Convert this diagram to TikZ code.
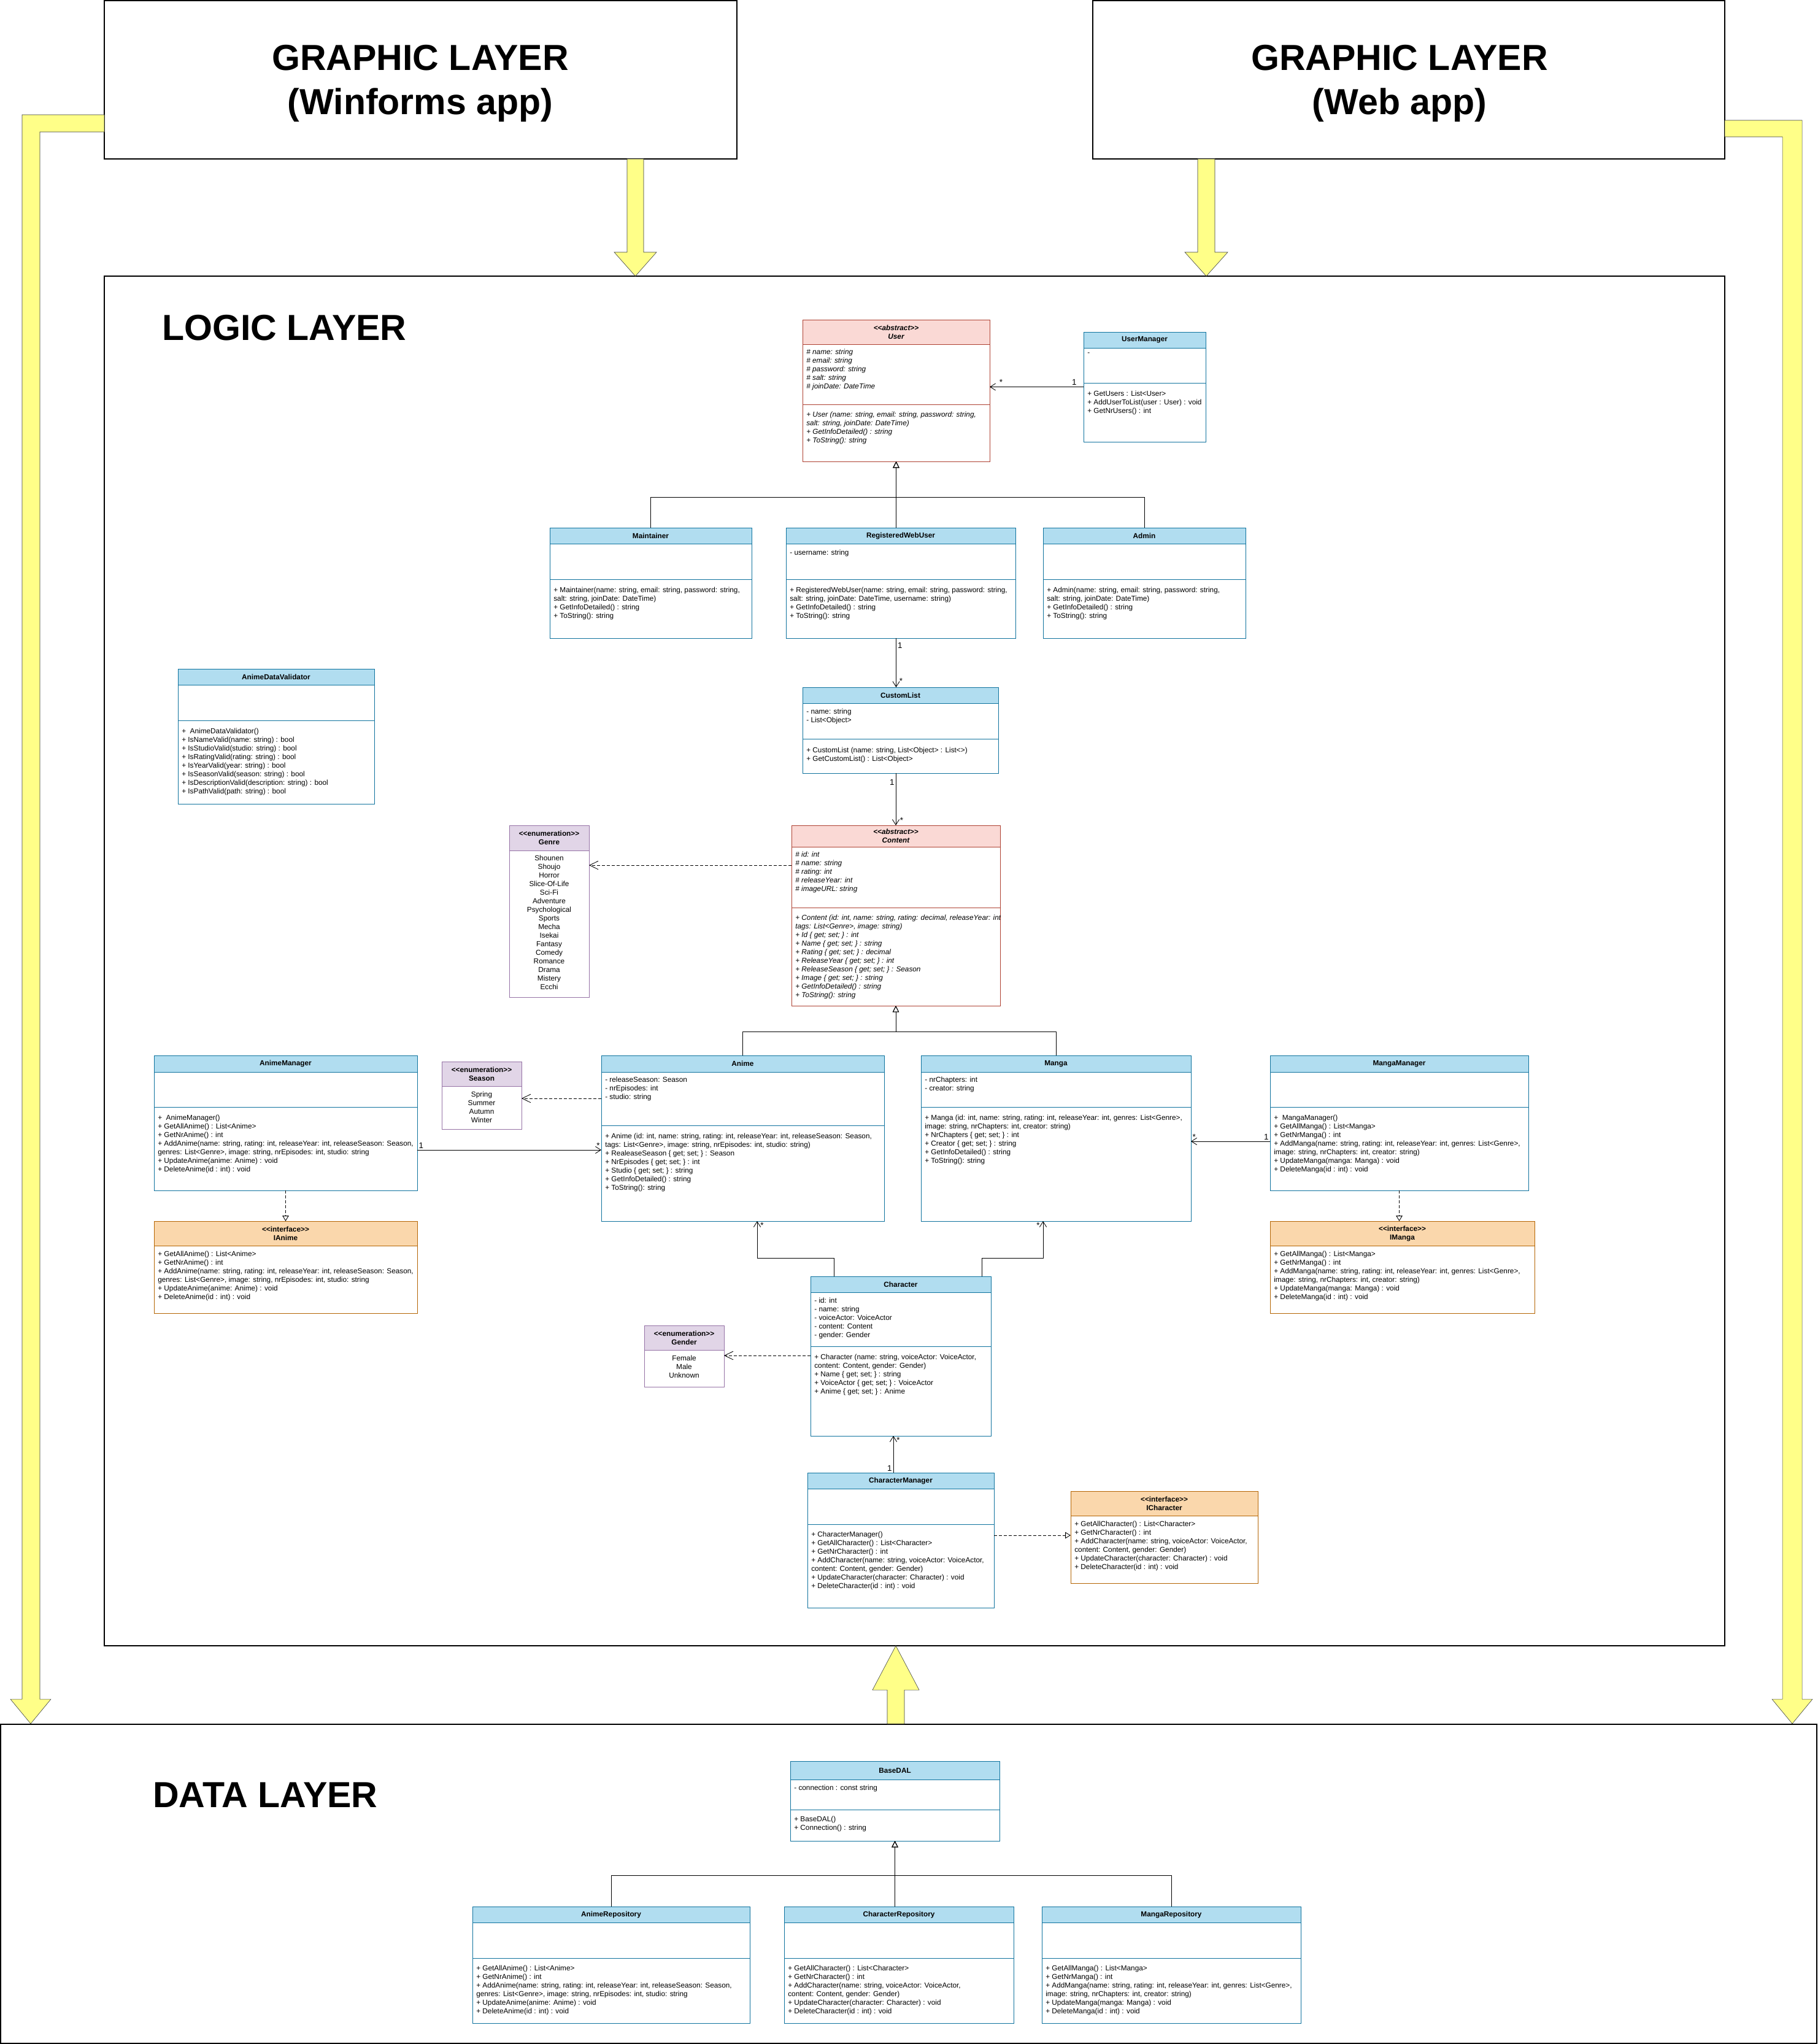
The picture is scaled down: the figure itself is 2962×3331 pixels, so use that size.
\documentclass[tikz,border=0pt]{standalone}
\usepackage{fontspec}
\setmainfont{Liberation Sans}
\usetikzlibrary{arrows.meta,positioning,calc}
\definecolor{clsfill}{HTML}{B1DDF0}
\definecolor{clsline}{HTML}{10739E}
\definecolor{absfill}{HTML}{FAD9D5}
\definecolor{absline}{HTML}{AE4132}
\definecolor{enumfill}{HTML}{E1D5E7}
\definecolor{enumline}{HTML}{9673A6}
\definecolor{ifcfill}{HTML}{FAD7AC}
\definecolor{ifcline}{HTML}{B46504}
\definecolor{arrowfill}{HTML}{FFFF88}
\definecolor{arrowline}{HTML}{36393D}
\newcommand{\umlfont}{\fontsize{8.4}{9.96}\selectfont}
\newcommand{\stereo}[1]{<\kern0pt<#1>\kern0pt>}
% style, name, x, y, width, height, header height, divider offset, title
\newcommand{\umlclass}[9]{%
 \node[#1,fill=white,minimum width=#5*0.25mm,minimum height=#6*0.25mm,anchor=north west] (#2) at (#3,#4) {};
 \node[#1,minimum width=#5*0.25mm,minimum height=#7*0.25mm,anchor=north west,align=center] (#2-head) at (#3,#4) {#9};
 \ifnum#8>0 \draw[#1] (#3,#4+#8) -- ++(#5,0);\fi}

\begin{document}
\begin{tikzpicture}[x=0.25mm,y=-0.25mm,
 klass/.style={draw=clsline,fill=clsfill,line width=.6pt,inner sep=0pt,outer sep=0pt,font=\umlfont\bfseries},
 abstr/.style={klass,draw=absline,fill=absfill,font=\umlfont\bfseries\itshape},
 enum/.style={klass,draw=enumline,fill=enumfill},
 iface/.style={klass,draw=ifcline,fill=ifcfill},
 members/.style={anchor=north west,align=left,inner sep=0pt,font=\umlfont},
 values/.style={anchor=north,align=center,inner sep=0pt,font=\umlfont},
 mult/.style={inner sep=1.5pt,font=\fontsize{9.5}{11}\selectfont},
 layer/.style={draw=black,line width=.8pt,fill=white,inner sep=0pt,outer sep=0pt},
 bigtitle/.style={inner sep=0pt,align=center,font=\fontsize{42}{51}\selectfont\bfseries},
 yellow/.style={fill=arrowfill,draw=arrowline,line width=.4pt},
 assoc/.style={line width=.6pt,-{Straight Barb[length=2.2mm,width=2.8mm]}},
 dep/.style={line width=.6pt,dash pattern=on 1.2mm off .8mm,-{Straight Barb[length=3.5mm,width=3.4mm]}},
 gen/.style={line width=.6pt,-{Triangle[open,length=2.6mm,width=2.6mm]}},
 real/.style={line width=.6pt,dash pattern=on 1.2mm off .8mm,-{Triangle[open,length=2.2mm,width=2.6mm]}}]
 \useasboundingbox (0,0) rectangle (2962,3331);

 % layers
 \node[layer,minimum width=1031*0.25mm,minimum height=258*0.25mm,anchor=north west] (winforms) at (170,1) {};
 \node[bigtitle] (winforms-title) at (685,136) {GRAPHIC LAYER\\(Winforms app)};
 \node[layer,minimum width=1030*0.25mm,minimum height=258*0.25mm,anchor=north west] (webapp) at (1781,1) {};
 \node[bigtitle] (webapp-title) at (2281,136) {GRAPHIC LAYER\\(Web app)};
 \node[layer,minimum width=2641*0.25mm,minimum height=2232*0.25mm,anchor=north west] (logic) at (170,450) {};
 \node[bigtitle,anchor=west] (logictitle) at (264,534) {LOGIC LAYER};
 \node[layer,minimum width=2960*0.25mm,minimum height=520*0.25mm,anchor=north west] (data) at (1,2810) {};
 \node[bigtitle,anchor=west] (datatitle) at (249,2925) {DATA LAYER};

 % yellow block arrows
 \draw[yellow] (1022,259) -- (1022,411) -- (1001,411) -- (1035.5,450) -- (1070,411) -- (1049,411) -- (1049,259) -- cycle;
 \draw[yellow] (1952,259) -- (1952,411) -- (1931,411) -- (1966,450) -- (2001,411) -- (1980,411) -- (1980,259) -- cycle;
 \draw[yellow] (170,187) -- (36,187) -- (36,2769) -- (17,2769) -- (50,2809) -- (83,2769) -- (65,2769) -- (65,215) -- (170,215) -- cycle;
 \draw[yellow] (2811,196) -- (2937,196) -- (2937,2769) -- (2954,2769) -- (2921,2809) -- (2888,2769) -- (2905,2769) -- (2905,223) -- (2811,223) -- cycle;
 \draw[yellow] (1446,2809) -- (1446,2754) -- (1422,2754) -- (1460,2682) -- (1498,2754) -- (1474,2754) -- (1474,2809) -- cycle;

 % users
 \umlclass{abstr}{user}{1308}{521}{305}{231}{40}{138}{\stereo{abstract}\\User}
 \node[members,font=\umlfont\itshape] (user-attr) at (1314,569) {\# name: string\\\# email: string\\\# password: string\\\# salt: string\\\# joinDate: DateTime};
 \node[members,font=\umlfont\itshape] (user-ops) at (1314,671) {+ User (name: string, email: string, password: string,\\salt: string, joinDate: DateTime)\\+ GetInfoDetailed() : string\\+ ToString(): string};
 \umlclass{klass}{usermanager}{1766}{541}{199}{179}{26}{83}{UserManager}
 \node[members] (usermanager-attr) at (1772,575) {-};
 \node[members] (usermanager-ops) at (1772,637) {+ GetUsers : List<User>\\+ AddUserToList(user : User) : void\\+ GetNrUsers() : int};
 \umlclass{klass}{maintainer}{896}{860}{329}{180}{26}{84}{Maintainer}
 \node[members] (maintainer-ops) at (902,957) {+ Maintainer(name: string, email: string, password: string,\\salt: string, joinDate: DateTime)\\+ GetInfoDetailed() : string\\+ ToString(): string};
 \umlclass{klass}{rwu}{1281}{860}{374}{180}{26}{84}{RegisteredWebUser}
 \node[members] (rwu-attr) at (1287,896) {- username: string};
 \node[members] (rwu-ops) at (1287,957) {+ RegisteredWebUser(name: string, email: string, password: string,\\salt: string, joinDate: DateTime, username: string)\\+ GetInfoDetailed() : string\\+ ToString(): string};
 \umlclass{klass}{admin}{1700}{860}{330}{180}{26}{84}{Admin}
 \node[members] (admin-ops) at (1706,957) {+ Admin(name: string, email: string, password: string,\\salt: string, joinDate: DateTime)\\+ GetInfoDetailed() : string\\+ ToString(): string};

 % lists and content
 \umlclass{klass}{validator}{290}{1090}{320}{220}{26}{84}{AnimeDataValidator}
 \node[members] (validator-ops) at (296,1187) {+\ \ AnimeDataValidator()\\+ IsNameValid(name: string) : bool\\+ IsStudioValid(studio: string) : bool\\+ IsRatingValid(rating: string) : bool\\+ IsYearValid(year: string) : bool\\+ IsSeasonValid(season: string) : bool\\+ IsDescriptionValid(description: string) : bool\\+ IsPathValid(path: string) : bool};
 \umlclass{klass}{customlist}{1308}{1120}{319}{140}{26}{84}{CustomList}
 \node[members] (customlist-attr) at (1314,1155) {- name: string\\- List<Object>};
 \node[members] (customlist-ops) at (1314,1218) {+ CustomList (name: string, List<Object> : List<>)\\+ GetCustomList() : List<Object>};
 \umlclass{enum}{genre}{830}{1345}{130}{280}{41}{0}{\stereo{enumeration}\\Genre}
 \node[values] (genre-values) at (895,1394) {Shounen\\Shoujo\\Horror\\Slice-Of-Life\\Sci-Fi\\Adventure\\Psychological\\Sports\\Mecha\\Isekai\\Fantasy\\Comedy\\Romance\\Drama\\Mistery\\Ecchi};
 \umlclass{abstr}{content}{1290}{1345}{340}{294}{35}{134}{\stereo{abstract}\\Content}
 \node[members,font=\umlfont\itshape] (content-attr) at (1296,1388) {\# id: int\\\# name: string\\\# rating: int\\\# releaseYear: int\\\# imageURL: string};
 \begin{scope}
  \clip (content.north west) rectangle (content.south east);
  \node[members,font=\umlfont\itshape] (content-ops) at (1296,1491) {+ Content (id: int, name: string, rating: decimal, releaseYear: int,\\tags: List<Genre>, image: string)\\+ Id \{ get; set; \} : int\\+ Name \{ get; set; \} : string\\+ Rating \{ get; set; \} : decimal\\+ ReleaseYear \{ get; set; \} : int\\+ ReleaseSeason \{ get; set; \} : Season\\+ Image \{ get; set; \} : string\\+ GetInfoDetailed() : string\\+ ToString(): string};
 \end{scope}

 % anime and manga
 \umlclass{klass}{animemgr}{251}{1720}{429}{220}{27}{84}{AnimeManager}
 \node[members] (animemgr-ops) at (257,1817) {+\ \ AnimeManager()\\+ GetAllAnime() : List<Anime>\\+ GetNrAnime() : int\\+ AddAnime(name: string, rating: int, releaseYear: int, releaseSeason: Season,\\genres: List<Genre>, image: string, nrEpisodes: int, studio: string\\+ UpdateAnime(anime: Anime) : void\\+ DeleteAnime(id : int) : void};
 \umlclass{iface}{ianime}{251}{1990}{429}{150}{40}{0}{\stereo{interface}\\IAnime}
 \node[members] (ianime-ops) at (257,2039) {+ GetAllAnime() : List<Anime>\\+ GetNrAnime() : int\\+ AddAnime(name: string, rating: int, releaseYear: int, releaseSeason: Season,\\genres: List<Genre>, image: string, nrEpisodes: int, studio: string\\+ UpdateAnime(anime: Anime) : void\\+ DeleteAnime(id : int) : void};
 \umlclass{enum}{season}{720}{1730}{130}{110}{40}{0}{\stereo{enumeration}\\Season}
 \node[values] (season-values) at (785,1779) {Spring\\Summer\\Autumn\\Winter};
 \umlclass{klass}{anime}{980}{1720}{461}{270}{27}{114}{Anime}
 \node[members] (anime-attr) at (986,1755) {- releaseSeason: Season\\- nrEpisodes: int\\- studio: string};
 \node[members] (anime-ops) at (986,1847) {+ Anime (id: int, name: string, rating: int, releaseYear: int, releaseSeason: Season,\\tags: List<Genre>, image: string, nrEpisodes: int, studio: string)\\+ RealeaseSeason \{ get; set; \} : Season\\+ NrEpisodes \{ get; set; \} : int\\+ Studio \{ get; set; \} : string\\+ GetInfoDetailed() : string\\+ ToString(): string};
 \umlclass{klass}{manga}{1501}{1720}{440}{270}{27}{84}{Manga}
 \node[members] (manga-attr) at (1507,1755) {- nrChapters: int\\- creator: string};
 \node[members] (manga-ops) at (1507,1817) {+ Manga (id: int, name: string, rating: int, releaseYear: int, genres: List<Genre>,\\image: string, nrChapters: int, creator: string)\\+ NrChapters \{ get; set; \} : int\\+ Creator \{ get; set; \} : string\\+ GetInfoDetailed() : string\\+ ToString(): string};
 \umlclass{klass}{mangamgr}{2070}{1720}{421}{220}{27}{84}{MangaManager}
 \node[members] (mangamgr-ops) at (2076,1817) {+\ \ MangaManager()\\+ GetAllManga() : List<Manga>\\+ GetNrManga() : int\\+ AddManga(name: string, rating: int, releaseYear: int, genres: List<Genre>,\\image: string, nrChapters: int, creator: string)\\+ UpdateManga(manga: Manga) : void\\+ DeleteManga(id : int) : void};
 \umlclass{iface}{imanga}{2070}{1990}{431}{150}{40}{0}{\stereo{interface}\\IManga}
 \node[members] (imanga-ops) at (2076,2039) {+ GetAllManga() : List<Manga>\\+ GetNrManga() : int\\+ AddManga(name: string, rating: int, releaseYear: int, genres: List<Genre>,\\image: string, nrChapters: int, creator: string)\\+ UpdateManga(manga: Manga) : void\\+ DeleteManga(id : int) : void};

 % characters
 \umlclass{klass}{character}{1321}{2080}{294}{260}{26}{114}{Character}
 \node[members] (character-attr) at (1327,2115) {- id: int\\- name: string\\- voiceActor: VoiceActor\\- content: Content\\- gender: Gender};
 \node[members] (character-ops) at (1327,2207) {+ Character (name: string, voiceActor: VoiceActor,\\content: Content, gender: Gender)\\+ Name \{ get; set; \} : string\\+ VoiceActor \{ get; set; \} : VoiceActor\\+ Anime \{ get; set; \} : Anime};
 \umlclass{enum}{gender}{1050}{2160}{130}{100}{40}{0}{\stereo{enumeration}\\Gender}
 \node[values] (gender-values) at (1115,2209) {Female\\Male\\Unknown};
 \umlclass{klass}{charmgr}{1316}{2400}{304}{220}{26}{84}{CharacterManager}
 \node[members] (charmgr-ops) at (1322,2496) {+ CharacterManager()\\+ GetAllCharacter() : List<Character>\\+ GetNrCharacter() : int\\+ AddCharacter(name: string, voiceActor: VoiceActor,\\content: Content, gender: Gender)\\+ UpdateCharacter(character: Character) : void\\+ DeleteCharacter(id : int) : void};
 \umlclass{iface}{icharacter}{1745}{2430}{305}{150}{40}{0}{\stereo{interface}\\ICharacter}
 \node[members] (icharacter-ops) at (1751,2479) {+ GetAllCharacter() : List<Character>\\+ GetNrCharacter() : int\\+ AddCharacter(name: string, voiceActor: VoiceActor,\\content: Content, gender: Gender)\\+ UpdateCharacter(character: Character) : void\\+ DeleteCharacter(id : int) : void};

 % data layer
 \umlclass{klass}{basedal}{1288}{2870}{341}{130}{30}{79}{BaseDAL}
 \node[members] (basedal-attr) at (1294,2909) {- connection : const string};
 \node[members] (basedal-ops) at (1294,2960) {+ BaseDAL()\\+ Connection() : string};
 \umlclass{klass}{animerepo}{770}{3107}{452}{190}{26}{84}{AnimeRepository}
 \node[members] (animerepo-ops) at (776,3203) {+ GetAllAnime() : List<Anime>\\+ GetNrAnime() : int\\+ AddAnime(name: string, rating: int, releaseYear: int, releaseSeason: Season,\\genres: List<Genre>, image: string, nrEpisodes: int, studio: string\\+ UpdateAnime(anime: Anime) : void\\+ DeleteAnime(id : int) : void};
 \umlclass{klass}{charrepo}{1278}{3107}{374}{190}{26}{84}{CharacterRepository}
 \node[members] (charrepo-ops) at (1284,3203) {+ GetAllCharacter() : List<Character>\\+ GetNrCharacter() : int\\+ AddCharacter(name: string, voiceActor: VoiceActor,\\content: Content, gender: Gender)\\+ UpdateCharacter(character: Character) : void\\+ DeleteCharacter(id : int) : void};
 \umlclass{klass}{mangarepo}{1698}{3107}{422}{190}{26}{84}{MangaRepository}
 \node[members] (mangarepo-ops) at (1704,3203) {+ GetAllManga() : List<Manga>\\+ GetNrManga() : int\\+ AddManga(name: string, rating: int, releaseYear: int, genres: List<Genre>,\\image: string, nrChapters: int, creator: string)\\+ UpdateManga(manga: Manga) : void\\+ DeleteManga(id : int) : void};

 % connectors
 \draw[assoc] (usermanager.west) -- node[mult,pos=.1,above]{1} node[mult,pos=.88,above]{*} (usermanager.west -| user.east);
 \draw[gen] (maintainer.north) -- ++(0,-50) -| (user.south);
 \draw[gen] (rwu.north -| user.south) -- (user.south);
 \draw[gen] (admin.north) -- ++(0,-50) -| (user.south);
 \draw[assoc] (rwu.south -| user.south) -- node[mult,pos=.15,right]{1} node[mult,pos=.87,right,xshift=2pt]{*} (customlist.north -| user.south);
 \draw[assoc] (customlist.south -| content.north) -- node[mult,pos=.18,left]{1} node[mult,pos=.9,right,xshift=3pt]{*} (content.north);
 \draw[dep] ($(content.north west)+(0,65)$) coordinate (cg) -- (cg -| genre.east);
 \draw[gen] (anime.north) -- ++(0,-39) -| (content.south);
 \draw[gen] (manga.north) -- ++(0,-39) -| (content.south);
 \draw[dep] ($(anime.north west)+(0,70)$) coordinate (as) -- (as -| season.east);
 \draw[assoc] ($(animemgr.north east)+(0,154)$) coordinate (aa) node[mult,anchor=south west]{1} -- (aa -| anime.west) node[mult,anchor=south east]{*};
 \draw[assoc] ($(mangamgr.north west)+(0,140)$) coordinate (mm) node[mult,anchor=south east]{1} -- (mm -| manga.east) node[mult,anchor=south west]{*};
 \draw[real] (animemgr.south) -- (ianime.north);
 \draw[real] (mangamgr.south) -- (mangamgr.south |- imanga.north);
 \draw[assoc] ($(character.north west)+(38,0)$) -- ++(0,-30) -| ($(anime.south west)+(254,0)$) node[mult,anchor=north west,xshift=2pt]{*};
 \draw[assoc] ($(character.north east)+(-15,0)$) -- ++(0,-30) -| ($(manga.south west)+(199,0)$) node[mult,anchor=north east,xshift=-2pt]{*};
 \draw[dep] ($(character.north west)+(0,129)$) coordinate (cgd) -- (cgd -| gender.east);
 \draw[assoc] ($(charmgr.north west)+(140,0)$) coordinate (cc) node[mult,anchor=south east]{1} -- (cc |- character.south) node[mult,anchor=north west,xshift=2pt]{*};
 \draw[real] ($(charmgr.north east)+(0,102)$) coordinate (ci) -- (ci -| icharacter.west);
 \draw[gen] (animerepo.north) -- ++(0,-51) -| (basedal.south);
 \draw[gen] (charrepo.north -| basedal.south) -- (basedal.south);
 \draw[gen] (mangarepo.north) -- ++(0,-51) -| (basedal.south);
\end{tikzpicture}
\end{document}
